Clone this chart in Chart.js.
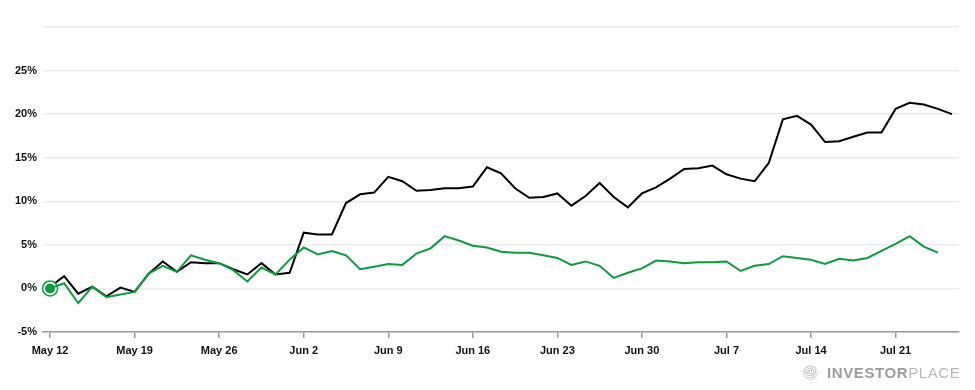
<!DOCTYPE html>
<html lang="en">
<head>
    <meta charset="UTF-8">
    <title>Performance Chart</title>
    <script src="https://cdn.jsdelivr.net/npm/chart.js"></script>
    <style>
        body { margin: 0; background: #fff; font-family: "Liberation Sans", Arial, sans-serif; }
        #wrap { position: relative; width: 975px; height: 390px; }
        #logo { position: absolute; left: 803px; top: 364px; height: 16px; display: flex; align-items: center; }
        #globe { width: 15px; height: 15px; border-radius: 50%; margin-right: 9px;
                 background: repeating-radial-gradient(circle at 40% 40%, #ccc 0 1px, #fff 1px 2px); border: 1px solid #ddd; box-sizing: border-box; }
        #logo span { font-size: 15px; letter-spacing: 0.6px; color: #a3a3a3; }
        #logo .a { font-weight: bold; color: #9c9c9c; }
        #logo .b { color: #b8b8b8; }
    </style>
</head>
<body>
<div id="wrap">
    <canvas id="perfChart" width="975" height="390"></canvas>
    <div id="logo"><div id="globe"></div><span class="a">INVESTOR</span><span class="b">PLACE</span></div>
</div>

<script>
// weekly tick labels, one every 6 points
var weekLabels = ['May 12', 'May 19', 'May 26', 'Jun 2', 'Jun 9', 'Jun 16', 'Jun 23', 'Jun 30', 'Jul 7', 'Jul 14', 'Jul 21'];
var pointsPerWeek = 6;

// black line (% return)
var blackSeries = [0.2, 1.4, -0.6, 0.2, -0.9, 0.1, -0.4, 1.7, 3.1, 1.9,
    3.0, 2.9, 2.9, 2.2, 1.6, 2.9, 1.6, 1.8, 6.4, 6.2,
    6.2, 9.8, 10.8, 11.0, 12.8, 12.3, 11.2, 11.3, 11.5, 11.5,
    11.7, 13.9, 13.2, 11.5, 10.4, 10.5, 10.9, 9.5, 10.6, 12.1,
    10.5, 9.3, 10.9, 11.6, 12.6, 13.7, 13.8, 14.1, 13.1, 12.6,
    12.3, 14.4, 19.4, 19.8, 18.8, 16.8, 16.9, 17.4, 17.9, 17.9,
    20.6, 21.3, 21.1, 20.6, 20.0];

// green line (% return)
var greenSeries = [0.0, 0.6, -1.7, 0.2, -1.0, -0.7, -0.4, 1.7, 2.6, 1.9,
    3.8, 3.3, 2.9, 2.1, 0.8, 2.4, 1.6, 3.3, 4.7, 3.9,
    4.3, 3.8, 2.2, 2.5, 2.8, 2.7, 4.0, 4.6, 6.0, 5.5,
    4.9, 4.7, 4.2, 4.1, 4.1, 3.8, 3.5, 2.7, 3.1, 2.6,
    1.2, 1.8, 2.3, 3.2, 3.1, 2.9, 3.0, 3.0, 3.1, 2.0,
    2.6, 2.8, 3.7, 3.5, 3.3, 2.8, 3.4, 3.2, 3.5, 4.3,
    5.1, 6.0, 4.8, 4.1];

var yTicks = [-5, 0, 5, 10, 15, 20, 25, 30];

var labels = blackSeries.map(function (v, i) {
    return i % pointsPerWeek === 0 ? weekLabels[i / pointsPerWeek] : '';
});
var ringData = greenSeries.map(function (v, i) { return i === 0 ? v : null; });

var green = '#0a9c3e';

var ctx = document.getElementById('perfChart').getContext('2d');
var perfChart = new Chart(ctx, {
    type: 'line',
    data: {
        labels: labels,
        datasets: [{
            data: blackSeries,
            borderColor: '#000',
            borderWidth: 2,
            pointRadius: 0,
            tension: 0,
            order: 3
        }, {
            data: ringData,
            showLine: false,
            pointRadius: 7.5,
            pointBorderWidth: 1.5,
            pointBorderColor: green,
            pointBackgroundColor: '#fff',
            order: 2
        }, {
            data: greenSeries,
            borderColor: green,
            borderWidth: 2,
            pointRadius: function (c) { return c.dataIndex === 0 ? 5 : 0; },
            pointBorderWidth: 0,
            pointBackgroundColor: green,
            tension: 0,
            order: 1
        }]
    },
    options: {
        responsive: false,
        animation: false,
        layout: { padding: { top: 27, right: 16, bottom: 28, left: 0 } },
        plugins: { legend: { display: false }, tooltip: { enabled: false } },
        scales: {
            x: {
                type: 'category',
                offset: true,
                afterFit: function (s) { s.height = 30; },
                grid: { drawOnChartArea: false, drawTicks: true, tickLength: 6, color: '#999', lineWidth: 1.5 },
                border: { color: '#999', width: 1.5 },
                ticks: {
                    autoSkip: false, maxRotation: 0, padding: 6,
                    color: '#111',
                    font: { family: '"Liberation Sans", Arial, sans-serif', size: 11, weight: 'bold' },
                    callback: function (v, i) { return labels[i] === '' ? null : labels[i]; }
                }
            },
            y: {
                min: -5,
                max: 30,
                afterFit: function (s) { s.width = 43; },
                afterBuildTicks: function (s) { s.ticks = yTicks.map(function (v) { return { value: v }; }); },
                grid: { color: '#ebebeb', lineWidth: 1.5, drawTicks: false },
                border: { display: false },
                ticks: {
                    padding: 6,
                    color: '#111',
                    font: { family: '"Liberation Sans", Arial, sans-serif', size: 11, weight: 'bold' },
                    callback: function (v) { return v === 30 ? '' : v + '%'; }
                }
            }
        }
    }
});
</script>
</body>
</html>
